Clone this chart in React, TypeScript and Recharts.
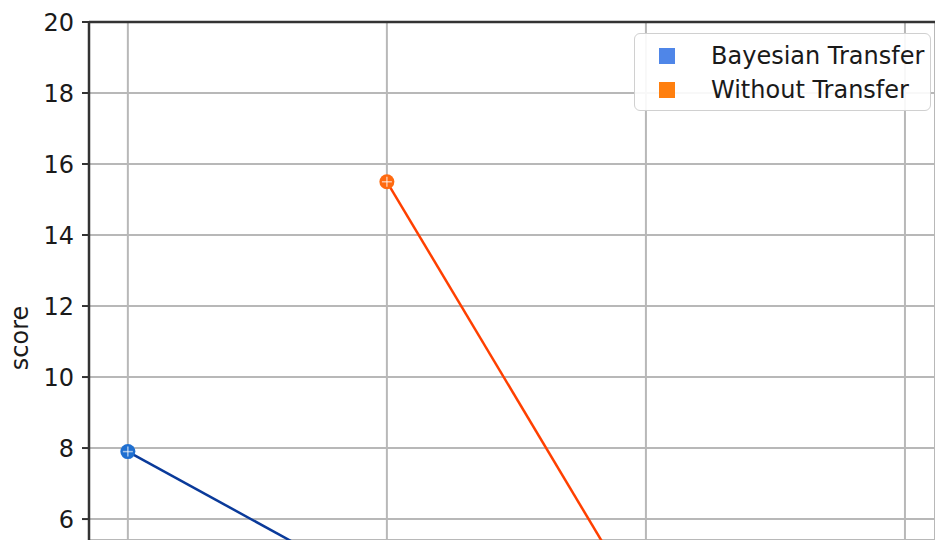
import React from 'react';
import { LineChart, Line, XAxis, YAxis, CartesianGrid, ReferenceLine } from 'recharts';

const steps = [0, 1, 2, 3];
const bayesianTransfer = [7.9, 3.9, null, null];
const withoutTransfer = [null, 15.5, 3.3, null];
const yTicks = [6, 8, 10, 12, 14, 16, 18, 20];
const seriesNames = ['Bayesian Transfer', 'Without Transfer'];
const legendColors = ['#4f86e8', '#ff7f0e'];

const data = steps.map((s, i) => ({ step: s, bayes: bayesianTransfer[i], without: withoutTransfer[i] }));

const FONT = '"DejaVu Sans", sans-serif';

const makeDot = (fill: string) => (props: any) => {
  const { cx, cy, key } = props;
  if (cx == null || cy == null || props.value == null) return <g key={key} />;
  return (
    <g key={key}>
      <circle cx={cx} cy={cy} r={7.5} fill={fill} />
      <line x1={cx - 5} y1={cy} x2={cx + 5} y2={cy} stroke="#ffffff" strokeOpacity={0.6} strokeWidth={1.5} />
      <line x1={cx} y1={cy - 5} x2={cx} y2={cy + 5} stroke="#ffffff" strokeOpacity={0.6} strokeWidth={1.5} />
    </g>
  );
};

const LegendBox = () => (
  <div
    style={{
      position: 'absolute',
      left: 634,
      top: 33,
      width: 297,
      height: 78,
      border: '1.5px solid #d0d0d0',
      borderRadius: 6,
      background: 'rgba(255,255,255,0.9)',
      boxSizing: 'border-box',
      fontFamily: FONT,
      fontSize: 24,
      color: '#1a1a1a',
    }}
  >
    {seriesNames.map((n, i) => (
      <div key={n} style={{ position: 'absolute', left: 24, top: 7 + i * 34, height: 30, display: 'flex', alignItems: 'center', whiteSpace: 'nowrap' }}>
        <span style={{ display: 'inline-block', width: 16, height: 16, background: legendColors[i], marginRight: 36 }} />
        <span>{n}</span>
      </div>
    ))}
  </div>
);

export default function App() {
  return (
    <div style={{ position: 'absolute', left: 0, top: 0, width: 935, height: 540, background: '#fff', overflow: 'hidden' }}>
      <LineChart width={935} height={540} data={data} margin={{ top: 22, right: 0, bottom: 0, left: 9 }}>
        <CartesianGrid stroke="#b8b8b8" strokeWidth={2} />
        <XAxis dataKey="step" type="number" domain={[-0.15, 3.116]} ticks={steps} hide allowDataOverflow />
        <YAxis
          type="number"
          domain={[5.41, 20]}
          ticks={yTicks}
          allowDataOverflow
          width={80}
          axisLine={{ stroke: '#333', strokeWidth: 2.5 }}
          tickLine={{ stroke: '#333', strokeWidth: 2 }}
          tickSize={7}
          tickMargin={8}
          tick={{ fill: '#1a1a1a', fontSize: 24, fontFamily: FONT }}
          label={{
            content: () => (
              <text x={20} y={338} transform="rotate(-90 20 338)" textAnchor="middle" dominantBaseline="central" fontSize={24} fontFamily={FONT} fill="#1a1a1a">
                score
              </text>
            ),
          }}
        />
        <ReferenceLine y={20} stroke="#333" strokeWidth={2.5} ifOverflow="visible" />
        <Line dataKey="without" stroke="#ff4000" strokeWidth={2.5} dot={makeDot('#ff6a10')} isAnimationActive={false} connectNulls={false} />
        <Line dataKey="bayes" stroke="#0a3a9a" strokeWidth={2.5} dot={makeDot('#1f6fd0')} isAnimationActive={false} connectNulls={false} />
      </LineChart>
      <LegendBox />
    </div>
  );
}
